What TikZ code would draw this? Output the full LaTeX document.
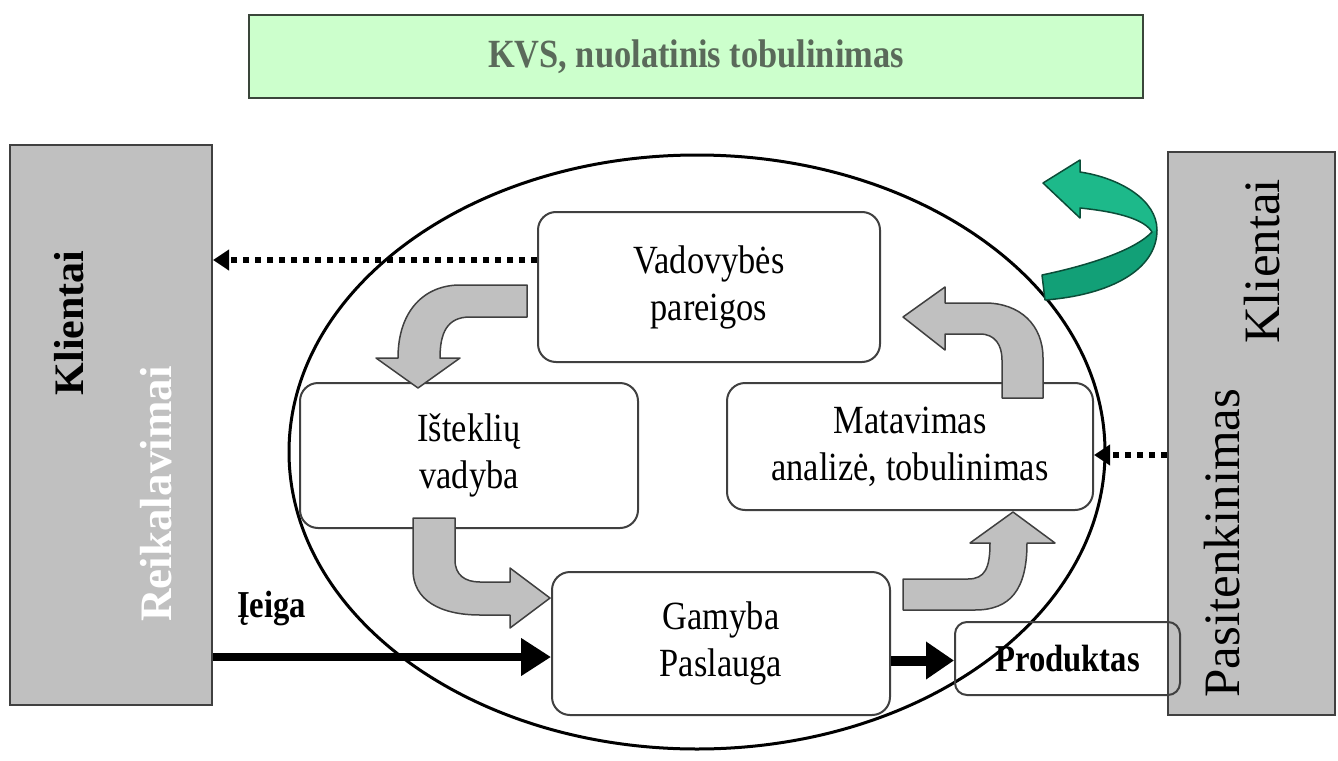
\documentclass[tikz,border=0pt]{standalone}
\usepackage{fontspec}
\setmainfont[FakeStretch=0.86]{Liberation Serif}
\newfontfamily\rotfont{Liberation Serif}
\usetikzlibrary{arrows.meta}
\definecolor{boxgray}{HTML}{C0C0C0}
\definecolor{edgegray}{HTML}{404040}
\definecolor{bannergreen}{HTML}{CCFFCC}
\definecolor{banneredge}{HTML}{3A463A}
\definecolor{bannertext}{HTML}{5A6A5A}
\definecolor{tealA}{HTML}{1DB98A}
\definecolor{tealB}{HTML}{12A077}
\definecolor{tealedge}{HTML}{0B4D38}
\begin{document}
\begin{tikzpicture}[x=1pt,y=-1pt,
  txt/.style={font=\fontsize{40}{47}\selectfont, align=center},
  rbox/.style={draw=edgegray, line width=2pt, rounded corners=18pt, fill=white, inner sep=0pt, txt},
  side/.style={draw=edgegray, line width=2pt, fill=boxgray, inner sep=0pt},
  blockarrow/.style={fill=boxgray, draw=edgegray, line width=1.5pt, line join=round},
  dotarrow/.style={line width=6pt, dash pattern=on 6pt off 6pt, -{Triangle[length=16pt,width=20pt]}},
  thickarrow/.style={line width=8pt, -{Triangle[length=30pt,width=36pt]}},
  prodarrow/.style={line width=10pt, -{Triangle[length=28pt,width=36pt]}},
  rottxt/.style={rotate=90, inner sep=0pt},
]
\useasboundingbox (0,0) rectangle (1338,760);

% banner
\node[draw=banneredge, line width=2.5pt, fill=bannergreen, minimum width=894pt, minimum height=83pt,
      font=\fontsize{40}{44}\selectfont\bfseries, text=bannertext] (kvs) at (696,56.5) {KVS, nuolatinis tobulinimas};

% big ellipse
\draw[line width=3pt] (697,452) ellipse [x radius=408, y radius=297];

% side boxes
\node[side, minimum width=202pt, minimum height=560pt] (lbox) at (111,425) {};
\node[side, minimum width=167pt, minimum height=563pt] (rbox) at (1251.5,433.5) {};
\node[rottxt, font=\rotfont\bfseries\fontsize{42}{44}\selectfont] (lk) at (69,323) {Klientai};
\node[rottxt, text=white, font=\rotfont\bfseries\fontsize{45}{47}\selectfont] (lr) at (156,494) {Reikalavimai};
\node[rottxt, font=\rotfont\fontsize{51}{53}\selectfont] (rk) at (1262,261) {Klientai};
\node[rottxt, font=\rotfont\fontsize{51}{53}\selectfont] (rp) at (1222,543) {Pasitenkinimas};

% process boxes
\node[rbox, minimum width=342pt, minimum height=150pt] (vad) at (709,287) {Vadovybės\\pareigos};
\node[rbox, minimum width=338pt, minimum height=145pt] (isk) at (469,455.5) {Išteklių\\vadyba};
\node[rbox, minimum width=366pt, minimum height=127pt] (mat) at (910,446.5) {Matavimas\\analizė, tobulinimas};
\node[rbox, minimum width=338pt, minimum height=143pt] (gam) at (721,643.5) {Gamyba\\Paslauga};
\node[draw=edgegray, line width=2pt, rounded corners=12pt, inner sep=0pt, minimum width=225pt, minimum height=73pt,
      font=\fontsize{38}{40}\selectfont\bfseries] (prod) at (1067.5,658.5) {Produktas};

% gray block arrows
\draw[blockarrow] (527,285) -- (460,285) .. controls (425,285) and (398,310) .. (398,358)
  -- (376,358) -- (418,388) -- (460,358) -- (440,358)
  .. controls (440,333) and (447,317) .. (470,317) -- (527,317) -- cycle;
\draw[blockarrow] (413,518) -- (413,570) .. controls (413,600) and (440,615) .. (480,615)
  -- (510,615) -- (510,628) -- (550,598) -- (510,568) -- (510,582) -- (480,582)
  .. controls (465,582) and (455,575) .. (455,560) -- (455,518) -- cycle;
\draw[blockarrow] (903,579) -- (903,610) -- (975,610) .. controls (1010,610) and (1027,590) .. (1027,543)
  -- (1055,543) -- (1013,512) -- (970,543) -- (990,543)
  .. controls (990,568) and (985,579) .. (968,579) -- cycle;
\draw[blockarrow] (1043,398) -- (1043,358) .. controls (1043,325) and (1020,303) .. (985,303)
  -- (945,303) -- (945,287) -- (903,317) -- (945,350) -- (945,334) -- (980,334)
  .. controls (995,334) and (1002,345) .. (1002,360) -- (1002,398) -- cycle;

% green curved arrow
\fill[tealA] (1080,208) .. controls (1120,212) and (1145,220) .. (1152,232)
  .. controls (1135,250) and (1090,265) .. (1042,275) -- (1045,300)
  .. controls (1110,295) and (1157,270) .. (1157,230)
  .. controls (1157,200) and (1120,178) .. (1080,172)
  -- (1080,160) -- (1043,183) -- (1080,218) -- cycle;
\fill[tealB] (1152,232) .. controls (1135,250) and (1090,265) .. (1042,275) -- (1045,300)
  .. controls (1110,295) and (1157,270) .. (1157,230) -- cycle;
\draw[tealedge, line width=1.5pt, line join=round] (1080,208) .. controls (1120,212) and (1145,220) .. (1152,232)
  .. controls (1135,250) and (1090,265) .. (1042,275) -- (1045,300)
  .. controls (1110,295) and (1157,270) .. (1157,230)
  .. controls (1157,200) and (1120,178) .. (1080,172)
  -- (1080,160) -- (1043,183) -- (1080,218) -- cycle;

% connectors
\coordinate (d1) at ([yshift=27pt]vad.west);
\draw[dotarrow] (d1) -- (d1 -| lbox.east);
\coordinate (d2) at ([yshift=-8.5pt]mat.east);
\draw[dotarrow] (d2 -| rbox.west) -- (d2);
\coordinate (in1) at ([yshift=-13.5pt]gam.west);
\draw[thickarrow] (in1 -| lbox.east) -- (in1);
\coordinate (p1) at ([yshift=-2pt]prod.west);
\draw[prodarrow] (p1 -| gam.east) -- (p1);

\node[anchor=base west, inner sep=0pt, font=\fontsize{38}{40}\selectfont\bfseries] (ieiga) at (237,617) {Įeiga};
\end{tikzpicture}
\end{document}
